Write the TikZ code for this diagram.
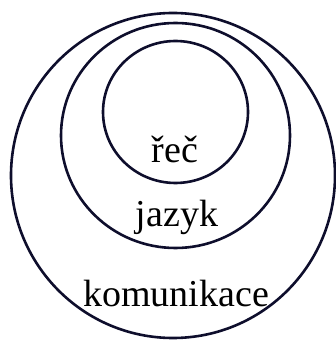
\documentclass[tikz,border=0pt]{standalone}
\usepackage{fontspec}
\setmainfont{Liberation Serif}
\definecolor{ink}{HTML}{0E0E2C}
\begin{document}
\begin{tikzpicture}[x=1pt,y=1pt,
  ring/.style={draw=ink,line width=2.6pt},
  lbl/.style={anchor=base,inner sep=0pt,font=\fontsize{38}{40}\selectfont}]
\useasboundingbox (0,0) rectangle (336,340);
\draw[ring] (173,164.5) ellipse [x radius=162,y radius=162.5];
\draw[ring] (175.5,204.5) ellipse [x radius=114.5,y radius=112.5];
\draw[ring] (175.5,228) ellipse [x radius=72.5,y radius=71];
\node[lbl] (rec) at (175,177) {řeč};
\node[lbl] (jazyk) at (177,113) {jazyk};
\node[lbl] (kom) at (176,33) {komunikace};
\end{tikzpicture}
\end{document}
